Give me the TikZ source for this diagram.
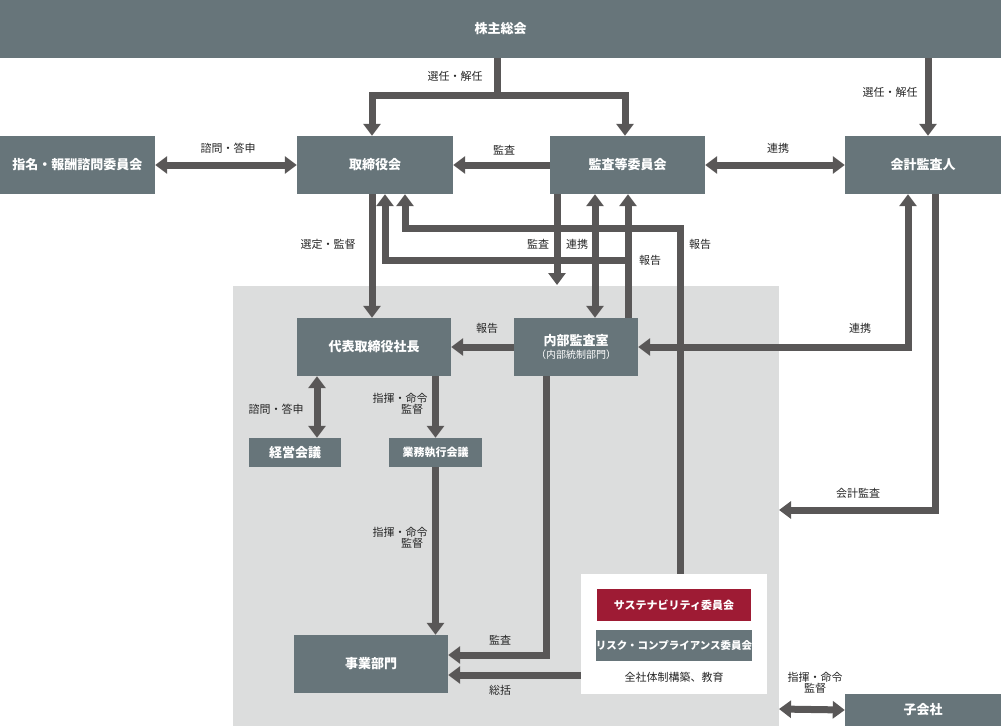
\documentclass[tikz,border=0pt]{standalone}
\usepackage{fontspec}
\setmainfont{Noto Sans CJK JP}
\usetikzlibrary{arrows.meta,calc}
\definecolor{boxc}{HTML}{67757A}
\definecolor{regc}{HTML}{DCDDDD}
\definecolor{arrc}{HTML}{595757}
\definecolor{redc}{HTML}{9E1B34}
\begin{document}
\begin{tikzpicture}[x=1pt,y=-1pt,
  box/.style={fill=boxc,text=white,inner sep=0,font=\fontsize{13}{15}\selectfont\bfseries},
  lbl/.style={text=black!85,inner sep=0,font=\fontsize{11}{13}\selectfont,align=center},
  ln/.style={draw=arrc,line width=7pt},
  arr/.style={ln,-{Triangle[width=17pt,length=12pt]}},
  darr/.style={ln,{Triangle[width=17pt,length=12pt]}-{Triangle[width=17pt,length=12pt]}}]
\useasboundingbox (0,0) rectangle (1001,726);
\fill[regc] (233,286) rectangle (779,726);
\node[box,minimum width=1001pt,minimum height=58pt] (kabu) at (500.5,29) {株主総会};
\node[box,minimum width=155pt,minimum height=58pt] (shimei) at (77.5,165) {指名・報酬諮問委員会};
\node[box,minimum width=156pt,minimum height=58pt] (tk) at (375,165) {取締役会};
\node[box,minimum width=155pt,minimum height=58pt] (kansa) at (627.5,165) {監査等委員会};
\node[box,minimum width=156pt,minimum height=58pt] (kaikei) at (923,165) {会計監査人};
\node[box,minimum width=154pt,minimum height=58pt] (daihyo) at (374,347) {代表取締役社長};
\node[box,minimum width=124pt,minimum height=58pt,align=center] (naibu) at (576,347) {内部監査室\\[-2pt]{\fontsize{10}{12}\selectfont\mdseries（内部統制部門）}};
\node[box,minimum width=92pt,minimum height=29pt] (keiei) at (295,452.5) {経営会議};
\node[box,minimum width=93pt,minimum height=29pt,font=\fontsize{11}{13}\selectfont\bfseries] (gyomu) at (435.5,452.5) {業務執行会議};
\node[box,minimum width=154pt,minimum height=58pt] (jigyo) at (371,664) {事業部門};
\node[fill=white,minimum width=186pt,minimum height=120pt,inner sep=0] (white) at (674,634) {};
\node[box,fill=redc,minimum width=154pt,minimum height=32pt,font=\fontsize{11}{13}\selectfont\bfseries] (sus) at (674,605) {サステナビリティ委員会};
\node[box,minimum width=154pt,minimum height=31pt,font=\fontsize{10.5}{13}\selectfont\bfseries] (risk) at (674,645.5) {リスク・コンプライアンス委員会};
\node[lbl] (zen) at (674,677) {全社体制構築、教育};
\node[box,minimum width=156pt,minimum height=32pt] (ko) at (923,710) {子会社};
% connectors
\coordinate (c1) at (497,95);
\draw[ln] ([xshift=-3.5pt]kabu.south) -- (c1);
\draw[arr] (c1) -| ([xshift=-3pt]tk.north);
\draw[arr] (c1) -| ([xshift=-2.5pt]kansa.north);
\draw[arr] ([xshift=5pt]kaikei.north |- kabu.south) -- ([xshift=5pt]kaikei.north);
\draw[darr] (shimei) -- (tk);
\draw[arr] (kansa) -- (tk);
\draw[darr] (kansa) -- (kaikei);
\draw[arr] ([xshift=-3pt]tk.south) -- ([xshift=-2pt]daihyo.north);
\coordinate (j1) at (628,260);
\draw[arr] ([xshift=52pt]naibu.north) -- ([xshift=0.5pt]kansa.south);
\draw[arr] (j1) -| ([xshift=10pt]tk.south);
\coordinate (j2) at (680,228);
\draw[arr] (white.north -| j2) -- (j2) -| ([xshift=30pt]tk.south);
\coordinate (j3) at (557,285);
\draw[arr] ([xshift=-70.5pt]kansa.south) -- (j3);
\draw[darr] ([xshift=-32.5pt]kansa.south) -- ([xshift=19pt]naibu.north);
\draw[arr] (naibu) -- (daihyo);
\draw[darr] ([xshift=-15pt]kaikei.south) |- (naibu.east);
\coordinate (j4) at (779,510);
\draw[arr] ([xshift=12pt]kaikei.south) |- (j4);
\draw[darr] ([xshift=22pt]keiei.north |- daihyo.south) -- ([xshift=22pt]keiei.north);
\draw[arr] (gyomu.north |- daihyo.south) -- (gyomu.north);
\draw[arr] (gyomu.south) -- (gyomu.south |- jigyo.north);
\draw[arr] ([xshift=-30pt]naibu.south) |- ([yshift=9pt]jigyo.east);
\coordinate (j5) at ([yshift=-11pt]jigyo.east);
\draw[arr] (j5 -| white.west) -- (j5);
\coordinate (j6) at (779,709);
\draw[darr] (ko.west) -- (j6);
% labels
\node[lbl] at (455,76) {選任・解任};
\node[lbl] at (890,92) {選任・解任};
\node[lbl] at (228,148) {諮問・答申};
\node[lbl] at (504,150) {監査};
\node[lbl] at (778,148) {連携};
\node[lbl] at (328,244) {選定・監督};
\node[lbl] at (538,244) {監査};
\node[lbl] at (577,244) {連携};
\node[lbl] at (650,260) {報告};
\node[lbl] at (700,244) {報告};
\node[lbl] at (487,328) {報告};
\node[lbl] at (860,328) {連携};
\node[lbl] at (858,493) {会計監査};
\node[lbl] at (276,409) {諮問・答申};
\node[lbl] at (400,404) {指揮・命令\\[-2pt]\hspace*{2.2em}監督};
\node[lbl] at (400,538) {指揮・命令\\[-2pt]\hspace*{2.2em}監督};
\node[lbl] at (500,640) {監査};
\node[lbl] at (500,690) {総括};
\node[lbl] at (815,683) {指揮・命令\\[-2pt]監督};
\end{tikzpicture}
\end{document}
